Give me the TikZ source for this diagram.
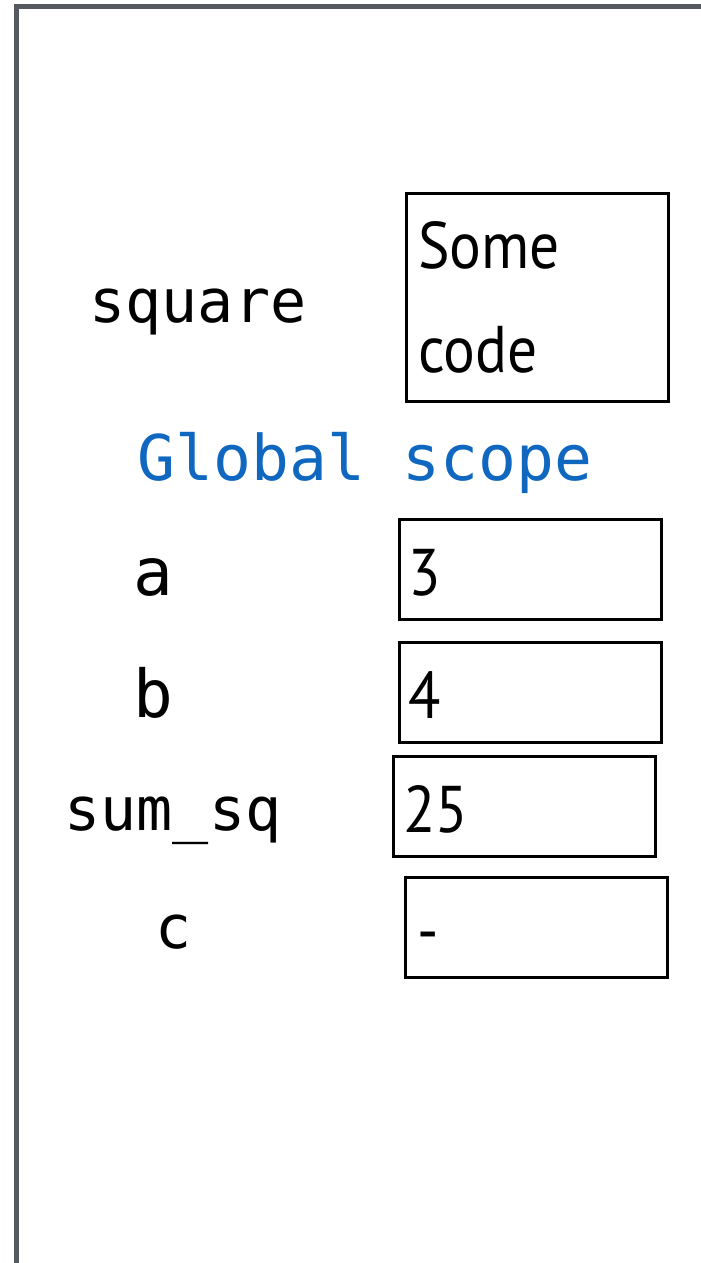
\documentclass[tikz,border=0pt]{standalone}
\usepackage{fontspec}
\setmonofont{DejaVu Sans Mono}
\newfontfamily\valfont[FakeStretch=0.9]{PT Sans}
\usetikzlibrary{positioning}
\definecolor{framegray}{HTML}{555A60}
\definecolor{scopeblue}{HTML}{0F67C0}

\begin{document}
\begin{tikzpicture}[x=1pt, y=-1pt,
  varname/.style={anchor=base, font=\ttfamily\fontsize{60}{72}\selectfont},
  valbox/.style={draw, line width=2.6pt, anchor=north west, minimum width=262pt, minimum height=100pt,
    text width=242pt, inner xsep=10pt, inner ysep=0pt, text height=60pt, text depth=8pt,
    align=left, font=\valfont\fontsize{66}{104}\selectfont}]
\useasboundingbox (0,0) rectangle (701,1263);

% Frame of the scope panel (cut off at right and bottom)
\draw[framegray, line width=5.5pt] (16.5,1275) -- (16.5,6.5) -- (715,6.5);

% Function object
\node[varname] (square) at (198,322) {square};
\node[valbox, minimum height=208pt, inner xsep=12pt, text width=238pt, text height=, text depth=]
  (squarebox) at (405,192) {Some\\code};

% Scope title
\node[varname, text=scopeblue, font=\ttfamily\fontsize{63}{72}\selectfont] (scope) at (365,480) {Global scope};

% Variables and their values
\node[varname, font=\ttfamily\fontsize{66}{72}\selectfont] (a) at (153,595) {a};
\node[valbox, inner xsep=9pt, text width=244pt] (abox) at (398,518) {3};

\node[varname, font=\ttfamily\fontsize{66}{72}\selectfont] (b) at (153,717) {b};
\node[valbox, inner xsep=9pt, text width=244pt] (bbox) at (398,641) {4};

\node[varname] (sumsq) at (173,830) {sum\_sq};
\node[valbox] (sumsqbox) at (392,755) {25};

\node[varname] (c) at (174,948) {c};
\node[valbox, inner xsep=12pt, text width=238pt] (cbox) at (404,876) {-};

\end{tikzpicture}
\end{document}
